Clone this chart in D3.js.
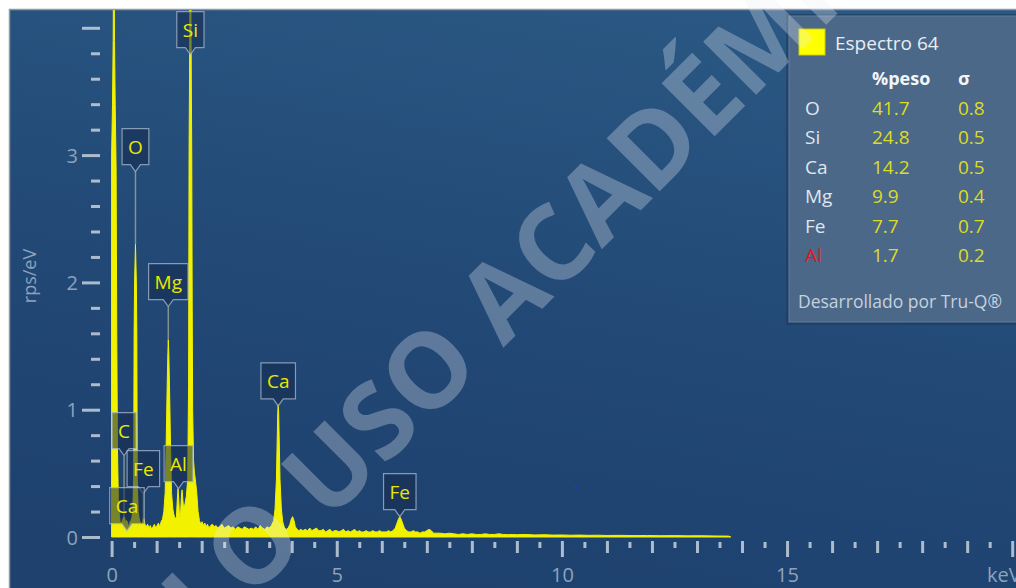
<!DOCTYPE html>
<html><head><meta charset="utf-8">
<script src="https://cdn.jsdelivr.net/npm/d3@7"></script>
<style>
html,body{margin:0;padding:0;background:#fff;}
svg{display:block;}
text{font-family:"Open Sans","Noto Sans",sans-serif;}
</style></head><body>
<svg id="chart" width="1016" height="588"></svg>
<script>
// ---- data (keV, rps/eV) ----
const spectrum = [
 [0.00,3.0],[0.02,3.4],[0.035,3.9],[0.05,5.0],[0.065,3.9],[0.08,3.4],[0.10,2.9],[0.115,1.6],[0.13,0.7],[0.15,0.3],[0.17,0.18],[0.19,0.12],
 [0.21,0.10],[0.23,0.12],[0.25,0.14],[0.27,0.16],[0.29,0.15],[0.31,0.11],[0.33,0.13],[0.35,0.12],[0.37,0.08],[0.39,0.10],[0.41,0.12],[0.43,0.13],
 [0.45,0.15],[0.47,0.2],[0.49,0.45],[0.50,1.6],[0.51,2.0],[0.53,2.3],[0.55,2.0],[0.56,1.6],[0.57,0.45],[0.59,0.2],[0.61,0.15],[0.63,0.12],
 [0.65,0.11],[0.67,0.09],[0.69,0.12],[0.705,0.15],[0.72,0.14],[0.74,0.10],[0.77,0.08],[0.80,0.10],[0.83,0.07],[0.86,0.09],[0.89,0.06],[0.92,0.08],
 [0.95,0.10],[0.98,0.07],[1.01,0.09],[1.04,0.11],[1.07,0.08],[1.10,0.12],
 [1.13,0.14],[1.16,0.2],[1.19,0.35],[1.21,0.7],[1.235,1.2],[1.25,1.45],[1.259,1.55],[1.27,1.45],[1.285,1.2],[1.31,0.7],[1.33,0.35],[1.36,0.22],[1.38,0.18],
 [1.41,0.14],[1.44,0.16],[1.46,0.3],[1.475,0.38],[1.49,0.3],[1.51,0.15],[1.53,0.17],[1.55,0.32],[1.565,0.37],[1.58,0.3],[1.60,0.22],
 [1.63,0.26],[1.66,0.32],[1.69,0.45],[1.71,1.2],[1.72,3.0],[1.73,3.6],[1.74,4.3],[1.75,5.0],[1.76,4.3],[1.77,3.6],[1.78,3.0],[1.79,1.8],
 [1.80,1.0],[1.82,0.6],[1.84,0.5],[1.86,0.45],[1.89,0.35],[1.92,0.2],[1.95,0.13],
 [1.98,0.10],[2.01,0.12],[2.04,0.09],[2.07,0.11],[2.10,0.08],[2.13,0.10],[2.16,0.07],[2.20,0.09],[2.24,0.10],[2.28,0.08],[2.32,0.09],[2.36,0.07],
 [2.40,0.08],[2.45,0.10],[2.50,0.07],[2.55,0.08],[2.60,0.09],[2.65,0.07],[2.70,0.08],[2.75,0.06],[2.80,0.08],[2.85,0.07],[2.90,0.06],[2.95,0.08],
 [3.00,0.07],[3.05,0.06],[3.10,0.07],[3.15,0.06],[3.20,0.08],[3.25,0.06],[3.30,0.09],[3.35,0.07],[3.40,0.06],[3.45,0.08],[3.50,0.07],
 [3.55,0.09],[3.60,0.13],[3.63,0.22],[3.66,0.45],[3.68,0.8],[3.69,0.98],[3.70,1.04],[3.71,0.98],[3.72,0.8],[3.74,0.45],[3.77,0.22],[3.80,0.12],
 [3.84,0.07],[3.88,0.06],[3.92,0.07],[3.96,0.10],[3.99,0.14],[4.02,0.16],[4.05,0.13],[4.08,0.08],[4.12,0.06],
 [4.16,0.05],[4.20,0.06],[4.25,0.05],[4.30,0.06],[4.35,0.05],[4.40,0.07],[4.45,0.05],[4.50,0.06],[4.55,0.07],[4.60,0.05],[4.65,0.05],[4.70,0.06],
 [4.75,0.04],[4.80,0.05],[4.85,0.06],[4.90,0.04],[4.95,0.05],[5.00,0.05],[5.05,0.04],[5.10,0.05],[5.15,0.06],[5.20,0.04],[5.25,0.05],[5.30,0.04],
 [5.35,0.05],[5.40,0.06],[5.45,0.04],[5.50,0.05],[5.55,0.04],[5.60,0.04],[5.65,0.05],[5.70,0.04],[5.75,0.04],[5.80,0.05],[5.85,0.04],[5.90,0.04],
 [5.95,0.05],[6.00,0.04],[6.05,0.04],[6.10,0.04],[6.15,0.05],[6.20,0.04],
 [6.25,0.05],[6.30,0.07],[6.34,0.11],[6.37,0.14],[6.40,0.16],[6.43,0.14],[6.46,0.11],[6.50,0.07],[6.55,0.05],[6.60,0.04],[6.65,0.04],[6.70,0.05],
 [6.75,0.04],[6.80,0.04],[6.85,0.03],[6.90,0.04],[6.95,0.04],[7.00,0.05],[7.05,0.06],[7.10,0.05],[7.15,0.03],[7.20,0.03],
 [7.3,0.03],[7.4,0.025],[7.5,0.03],[7.6,0.025],[7.7,0.02],[7.8,0.025],[7.9,0.02],[8.0,0.025],[8.1,0.02],[8.2,0.02],[8.3,0.025],[8.4,0.02],
 [8.5,0.02],[8.6,0.025],[8.7,0.02],[8.8,0.018],[8.9,0.02],[9.0,0.018],[9.2,0.02],[9.4,0.016],[9.6,0.018],[9.8,0.015],[10.0,0.016],[10.2,0.014],
 [10.4,0.015],[10.6,0.013],[10.8,0.014],[11.0,0.012],[11.3,0.013],[11.6,0.011],[11.9,0.012],[12.2,0.010],[12.5,0.011],[12.8,0.009],[13.1,0.010],
 [13.4,0.008],[13.7,0.007],[13.75,0]
];
// peak labels: element, energy (keV), label tip height, peak top height (rps/eV)
const peakElements = ["Si","O","Mg","Ca","Fe","C","Fe","Al","Ca"];
const peakKeV      = [1.75, 0.53, 1.259, 3.70, 6.40, 0.277, 0.705, 1.486, 0.341];
const peakTip      = [3.79, 2.87, 1.81, 1.03, 0.16, 0.64, 0.34, 0.38, 0.05];
const peakTop      = [5.0, 2.3, 1.55, 1.04, 0.16, 0.16, 0.15, 0.38, 0.13];
const yTickLabels  = [0, 1, 2, 3];
const xTickLabels  = [0, 5, 10, 15];
const legendTitle  = "Espectro 64";
const legendElements = ["O","Si","Ca","Mg","Fe","Al"];
const legendWeight = [41.7, 24.8, 14.2, 9.9, 7.7, 1.7];
const legendSigma  = [0.8, 0.5, 0.5, 0.4, 0.7, 0.2];
const legendFlag   = [false,false,false,false,false,true];
const cursorPoint  = [10.31, 0.39];

// ---- drawing ----
const svg = d3.select("#chart");
const defs = svg.append("defs");
const grad = defs.append("linearGradient").attr("id","bg")
  .attr("x1","0.65").attr("y1","0").attr("x2","0.35").attr("y2","1");
grad.append("stop").attr("offset","0").attr("stop-color","#2a5783");
grad.append("stop").attr("offset","0.55").attr("stop-color","#224875");
grad.append("stop").attr("offset","1").attr("stop-color","#1e416e");
defs.append("clipPath").attr("id","plotclip").append("rect")
  .attr("x",10).attr("y",10).attr("width",1006).attr("height",528);

svg.append("rect").attr("x",9).attr("y",9).attr("width",1007).attr("height",579).attr("fill","url(#bg)");
svg.append("path").attr("d","M9.5,588V9.5H1016").attr("fill","none").attr("stroke","#9299a2").attr("stroke-width",1.5);

const x = d3.scaleLinear().domain([0,20]).range([111.6,1012.2]);
const y = d3.scaleLinear().domain([0,4]).range([537,27.8]);

const tickColor = "#c6d1dd";
const labelColor = "#8ea3bb";

// x axis
const xTicks = d3.range(0,20.001,0.5);
const xAxis = svg.append("g").attr("transform","translate(0,537)")
  .call(d3.axisBottom(x).tickValues(xTicks).tickSizeInner(0).tickSizeOuter(0).tickPadding(0)
    .tickFormat(d => xTickLabels.includes(d) ? d3.format("d")(d) : ""));
xAxis.select(".domain").remove();
xAxis.selectAll(".tick line")
  .attr("y1", d => d % 5 === 0 ? 4 : (Number.isInteger(d) ? 4 : 5))
  .attr("y2", d => d % 5 === 0 ? 20 : (Number.isInteger(d) ? 16 : 11))
  .attr("stroke", tickColor).attr("stroke-width", 3).attr("opacity",0.85);
xAxis.selectAll(".tick text").attr("y", 45).attr("dy", null)
  .attr("fill", labelColor).attr("font-size", 20)
  .attr("font-family", '"Open Sans","Noto Sans",sans-serif');
svg.append("text").attr("x",987).attr("y",582).attr("fill",labelColor)
  .attr("font-size",20).text("keV");

// y axis
const yTicks = d3.range(0,21).map(i => i/5);
const yAxis = svg.append("g").attr("transform","translate(100,0)")
  .call(d3.axisLeft(y).tickValues(yTicks).tickSizeInner(0).tickSizeOuter(0).tickPadding(0)
    .tickFormat(d => yTickLabels.includes(d) ? d3.format("d")(d) : ""));
yAxis.select(".domain").remove();
yAxis.selectAll(".tick line")
  .attr("x1", d => Number.isInteger(d) ? -18 : -9).attr("x2", 0)
  .attr("stroke", tickColor).attr("stroke-width", 3).attr("opacity",0.85);
yAxis.selectAll(".tick text").attr("x", -22).attr("dy","0.35em")
  .attr("fill", labelColor).attr("font-size", 20)
  .attr("font-family", '"Open Sans","Noto Sans",sans-serif');
svg.append("text").attr("transform","translate(36,276) rotate(-90)")
  .attr("text-anchor","middle").attr("fill",labelColor).attr("font-size",18).text("rps/eV");

// spectrum
const plot = svg.append("g").attr("clip-path","url(#plotclip)");
const area = d3.area().x(d => x(d[0])).y0(y(0)).y1(d => y(d[1]));
plot.append("path").datum(spectrum).attr("d", area)
  .attr("fill","#f2f200").attr("stroke","#f2f200").attr("stroke-width",1).attr("stroke-linejoin","round");

// cursor dot
svg.append("rect").attr("x", x(cursorPoint[0]) - 1).attr("y", y(cursorPoint[1]) - 1)
  .attr("width",2).attr("height",2).attr("fill","#2233ff");

// peak labels
const labels = peakElements.map((el,i) => ({el, keV:peakKeV[i], tip:peakTip[i], top:peakTop[i]}));
const lg = svg.append("g");
labels.forEach(d => {
  if (d.top < d.tip) {
    lg.append("line").attr("x1", x(d.keV)).attr("x2", x(d.keV))
      .attr("y1", y(d.tip)).attr("y2", y(d.top))
      .attr("stroke","rgba(160,172,150,0.75)").attr("stroke-width",1.5);
  }
});
labels.forEach(d => {
  const g = lg.append("g").attr("transform", `translate(${x(d.keV)},${y(d.tip)})`);
  const path = g.append("path");
  const t = g.append("text").attr("x",0).attr("y",-25).attr("text-anchor","middle")
    .attr("dominant-baseline","central").attr("fill","#e9e900").attr("font-size",19).text(d.el);
  const tw = t.node().getComputedTextLength();
  const w = tw + 12, h = 36, p = 7;
  path.attr("d", `M${-w/2},${-p-h}H${w/2}V${-p}H5L0,0L-5,${-p}H${-w/2}Z`)
    .attr("fill","rgba(20,42,76,0.55)").attr("stroke","rgba(170,186,206,0.75)").attr("stroke-width",1.2);
  t.raise();
});

// legend
const leg = svg.append("g");
leg.append("rect").attr("x",786).attr("y",14).attr("width",240).attr("height",311).attr("fill","#1c3a5e").attr("opacity",0.6);
leg.append("rect").attr("x",789).attr("y",16).attr("width",240).attr("height",306)
  .attr("fill","#4b6889").attr("stroke","#627d9b").attr("stroke-width",1);
leg.append("rect").attr("x",799).attr("y",29).attr("width",26).attr("height",26)
  .attr("fill","#ffff00").attr("stroke","#cfcf00").attr("stroke-width",1);
leg.append("text").attr("x",835).attr("y",50).attr("fill","#e8edf2").attr("font-size",19).text(legendTitle);
leg.append("text").attr("x",872).attr("y",85).attr("fill","#f2f5f8").attr("font-size",18).attr("font-weight",700).text("%peso");
leg.append("text").attr("x",958).attr("y",85).attr("fill","#f2f5f8").attr("font-size",18).attr("font-weight",700).text("σ");
const fmt = d3.format(".1f");
legendElements.forEach((el,i) => {
  const yy = 115 + i*29.4;
  leg.append("text").attr("x",805).attr("y",yy).attr("font-size",19)
    .attr("fill", legendFlag[i] ? "#e8141c" : "#dfe6ee").text(el);
  leg.append("text").attr("x",872).attr("y",yy).attr("font-size",19).attr("fill","#dcdc22").text(fmt(legendWeight[i]));
  leg.append("text").attr("x",958).attr("y",yy).attr("font-size",19).attr("fill","#dcdc22").text(fmt(legendSigma[i]));
});
leg.append("text").attr("x",798).attr("y",308).attr("fill","#c6d1dd").attr("font-size",17.5).text("Desarrollado por Tru-Q®");

// watermark
svg.append("text").attr("transform","translate(529,322) rotate(-45)")
  .attr("text-anchor","middle").attr("font-size",105).attr("font-weight",700)
  .attr("fill","rgba(235,240,245,0.3)").text("SOLO USO ACADÉMICO");
</script>
</body></html>
